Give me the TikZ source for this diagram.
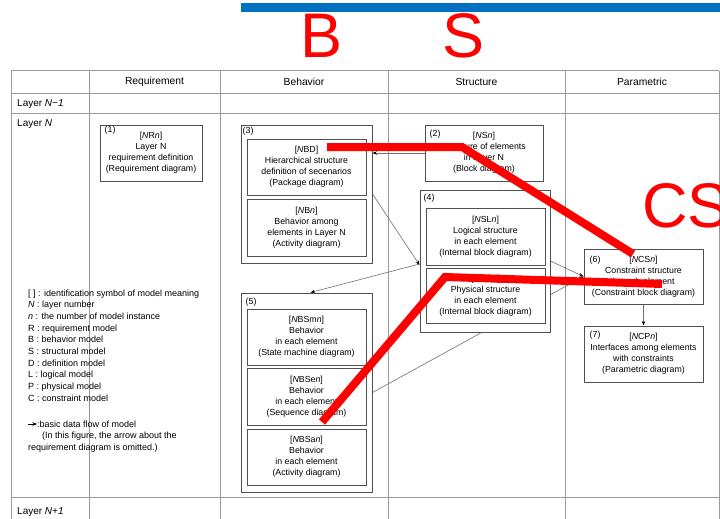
\documentclass[tikz,border=0pt]{standalone}
\usepackage{fontspec}
\setmainfont{Liberation Sans}
\usetikzlibrary{arrows.meta}
\pgfdeclarelayer{back}
\pgfdeclarelayer{bg}
\pgfsetlayers{back,bg,main}
\definecolor{barblue}{HTML}{0070C0}
\definecolor{tblgray}{HTML}{9A9A9A}
\definecolor{boxgray}{HTML}{505050}
\definecolor{linegray}{HTML}{707070}
\begin{document}
\begin{tikzpicture}[x=1pt,y=-1pt,
  tbl/.style={draw=tblgray, line width=1pt},
  box/.style={draw=boxgray, line width=1pt, fill=white, inner sep=0pt, align=center,
              font=\fontsize{8.8}{11}\selectfont},
  tag/.style={anchor=west, inner sep=0pt, font=\fontsize{8.8}{11}\selectfont},
  flow/.style={draw=linegray, line width=0.6pt, -{Stealth[length=4.5pt,width=3.5pt,color=black]}},
  redmark/.style={draw=red, line width=8pt},
  big/.style={text=red, font=\fontsize{63}{63}\selectfont, inner sep=0pt, anchor=base west},
  hdr/.style={font=\fontsize{10.3}{12}\selectfont, inner sep=0pt},
  lay/.style={font=\fontsize{10}{12}\selectfont, inner sep=0pt, anchor=base west},
  leg/.style={font=\fontsize{9}{11}\selectfont, inner sep=0pt, anchor=base west}
]
\useasboundingbox (0,0) rectangle (720,519);
\begin{pgfonlayer}{back}
  \fill[white] (0,0) rectangle (720,519);
\end{pgfonlayer}

% headers and layer labels
\node[hdr] (hReq) at (154.5,82) {Requirement};
\node[hdr] (hBeh) at (304,82) {Behavior};
\node[hdr] (hStr) at (476.5,82) {Structure};
\node[hdr] (hPar) at (642,82) {Parametric};
\node[lay] (lNm) at (17,106.5) {Layer \textit{N−1}};
\node[lay] (lN) at (17,126.5) {Layer \textit{N}};
\node[lay] (lNp) at (17,514.5) {Layer \textit{N+1}};

% boxes
\node[box, minimum width=102, minimum height=56] (b1) at (151,153)
  {[\textit{N}R\textit{n}]\\Layer N\\requirement definition\\(Requirement diagram)};
\node[box, minimum width=118, minimum height=56] (b2) at (484,153)
  {[\textit{N}S\textit{n}]\\Structure of elements\\in Layer N\\(Block diagram)};
\node[box, minimum width=131, minimum height=138] (b3) at (306.5,194) {};
\node[box, minimum width=119, minimum height=56] (b3a) at (306.5,167)
  {[\textit{N}BD]\\Hierarchical structure\\definition of secenarios\\(Package diagram)};
\node[box, minimum width=119, minimum height=57] (b3b) at (306.5,227.5)
  {[\textit{N}B\textit{n}]\\Behavior among\\elements in Layer N\\(Activity diagram)};
\node[box, minimum width=130, minimum height=142] (b4) at (485,261) {};
\node[box, minimum width=119, minimum height=57] (b4a) at (485.5,236.5)
  {[\textit{N}SL\textit{n}]\\Logical structure\\in each element\\(Internal block diagram)};
\node[box, minimum width=119, minimum height=55] (b4b) at (485.5,295.5)
  {[\textit{N}SP\textit{n}]\\Physical structure\\in each element\\(Internal block diagram)};
\node[box, minimum width=131, minimum height=199] (b5) at (306.5,392.5) {};
\node[box, minimum width=119, minimum height=56] (b5a) at (306.5,337)
  {[\textit{N}BSm\textit{n}]\\Behavior\\in each element\\(State machine diagram)};
\node[box, minimum width=119, minimum height=57] (b5b) at (306.5,396.5)
  {[\textit{N}BSe\textit{n}]\\Behavior\\in each element\\(Sequence diagram)};
\node[box, minimum width=119, minimum height=56] (b5c) at (306.5,457)
  {[\textit{N}BSa\textit{n}]\\Behavior\\in each element\\(Activity diagram)};
\node[box, minimum width=119, minimum height=55] (b6) at (643.5,276.5)
  {[\textit{N}CS\textit{n}]\\Constraint structure\\in each element\\(Constraint block diagram)};
\node[box, minimum width=119, minimum height=56] (b7) at (643.5,354)
  {[\textit{N}CP\textit{n}]\\Interfaces among elements\\with constraints\\(Parametric diagram)};

% tags
\node[tag] (t1) at ([shift={(5,6)}]b1.north west) {(1)};
\node[tag] (t2) at ([shift={(5,10)}]b2.north west) {(2)};
\node[tag] (t3) at ([shift={(2,7)}]b3.north west) {(3)};
\node[tag] (t4) at ([shift={(4,9)}]b4.north west) {(4)};
\node[tag] (t5) at ([shift={(5,10)}]b5.north west) {(5)};
\node[tag] (t6) at ([shift={(6,12)}]b6.north west) {(6)};
\node[tag] (t7) at ([shift={(6,10)}]b7.north west) {(7)};

% legend
\node[leg] (g1) at (28,296) {[ ] : identification symbol of model meaning};
\node[leg] (g2) at (28,307.7) {\textit{N} : layer number};
\node[leg] (g3) at (28,319.4) {\textit{n} : the number of model instance};
\node[leg] (g4) at (28,331.1) {R : requirement model};
\node[leg] (g5) at (28,342.8) {B : behavior model};
\node[leg] (g6) at (28,354.5) {S : structural model};
\node[leg] (g7) at (28,366.2) {D : definition model};
\node[leg] (g8) at (28,377.9) {L : logical model};
\node[leg] (g9) at (28,389.6) {P : physical model};
\node[leg] (g10) at (28,401.3) {C : constraint model};
\coordinate (ga) at (28,424);
\node[leg] (g11) at (37,427) {:basic data flow of model};
\node[leg] (g12) at (42,438.7) {(In this figure, the arrow about the};
\node[leg] (g13) at (28,450.4) {requirement diagram is omitted.)};
\draw[flow, draw=black] (ga) -- (g11.west |- ga);

\begin{pgfonlayer}{bg}
  % table
  \foreach \yy in {71,93,113,497} \draw[tbl] (11,\yy) -- (719,\yy);
  \foreach \xx in {11,89,220,388,565,719} \draw[tbl] (\xx,71) -- (\xx,519);
  % connectors
  \draw[flow] (b2.west) -- (b3.east |- b2.west);
  \draw[flow] (b3.east) -- ([yshift=-4pt]b4.west);
  \draw[flow] ([yshift=-3pt]b4.west) -- ([xshift=4pt]b5.north);
  \draw[flow] (b4.east) -- (b6.west);
  \draw[flow] (b5.east) -- (b6.west);
  \draw[flow] (b6.south) -- (b7.north);
\end{pgfonlayer}

% annotations
\fill[barblue] (241,3) rectangle (720,12);
\node[big] (tB) at (300.5,58) {B};
\node[big] (tS) at (442,58) {S};
\node[big] (tCS) at (642,227) {CS};
\coordinate (r1a) at (327,147);
\coordinate (r1b) at (462,147);
\coordinate (r1c) at (633,254);
\coordinate (r2a) at (322,422);
\coordinate (r2b) at (445,277);
\coordinate (r2c) at (662,284);
\draw[redmark] (r1a) -- (r1b) -- (r1c);
\draw[redmark] (r2a) -- (r2b) -- (r2c);
\end{tikzpicture}
\end{document}
